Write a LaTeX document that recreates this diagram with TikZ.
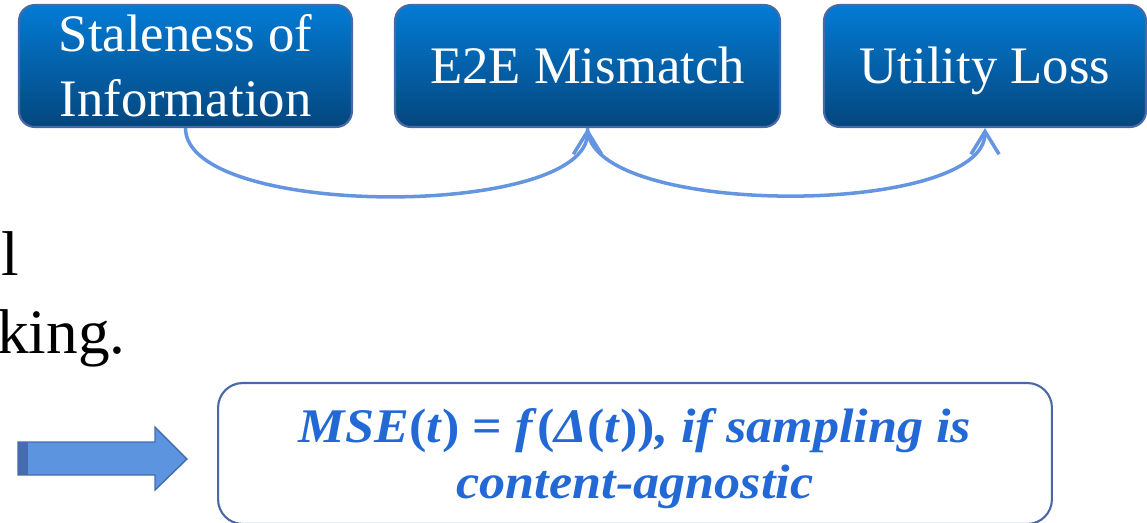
\documentclass[tikz,border=0pt]{standalone}
\usepackage{fontspec}
\setmainfont{Liberation Serif}
\newfontfamily\eqfont[FakeStretch=1.08]{Liberation Serif}
\usetikzlibrary{positioning,arrows.meta}

\definecolor{boxtop}{RGB}{3,123,213}
\definecolor{boxbot}{RGB}{4,70,125}
\definecolor{boxedge}{RGB}{74,104,166}
\definecolor{linkblue}{RGB}{100,149,224}
\definecolor{eqblue}{RGB}{35,105,214}
\definecolor{arrowfill}{RGB}{92,148,224}
\definecolor{arrowedge}{RGB}{70,108,175}

\tikzset{
  stage/.style={draw=boxedge,line width=1.2pt,rounded corners=9pt,
    top color=boxtop,bottom color=boxbot,text=white,align=center,
    font=\fontsize{30}{37}\selectfont,minimum height=2.44cm,inner sep=0pt},
  oneline/.style={text height=30pt,text depth=10pt},
  link/.style={draw=linkblue,line width=2pt,
    -{Straight Barb[length=13pt,width=16pt,line width=2pt]}},
  slidetext/.style={font=\fontsize{36}{44}\selectfont,inner sep=0pt,anchor=base west},
  eqbox/.style={draw=boxedge,line width=1.2pt,rounded corners=14pt,fill=white,
    minimum width=16.68cm,minimum height=2.82cm,inner sep=0pt},
}

\begin{document}
\begin{tikzpicture}[x=0.02cm,y=-0.02cm]
\clip (0,0) rectangle (1147,522);
\node[stage,minimum width=6.66cm] (stale) at (185.5,66) {Staleness of\\Information};
\node[stage,oneline,minimum width=7.70cm] (mismatch) at (587.5,66) {E2E Mismatch};
\node[stage,oneline,minimum width=6.44cm] (utility) at (985,66) {Utility Loss};
\draw[link] (stale.south) to[out=-90,in=-90,looseness=0.58] (mismatch.south);
\draw[link] (mismatch.south) to[out=-90,in=-90,looseness=0.58] (utility.south);

\node[slidetext] (tailL) at (1,275) {l};
\node[slidetext] (tailking) at (-3,353) {king.};

\draw[fill=arrowfill,draw=arrowedge,line width=0.8pt]
  (18,442) -- (155,442) -- (155,427) -- (187,459) -- (155,490) -- (155,475) -- (18,475) -- cycle;
\fill[arrowedge] (18,442) rectangle (28,475);

\node[eqbox] (mse) at (635,453.5) {};
\node[text=eqblue,font=\eqfont\fontsize{27.5}{32}\selectfont\bfseries\itshape,align=center,inner sep=0pt] (msetext) at (635,459)
  {MSE\textup{(}t\textup{)} \textup{=} f\textup{(}Δ\textup{(}t\textup{))}, if sampling is\\content-agnostic};
\end{tikzpicture}
\end{document}
